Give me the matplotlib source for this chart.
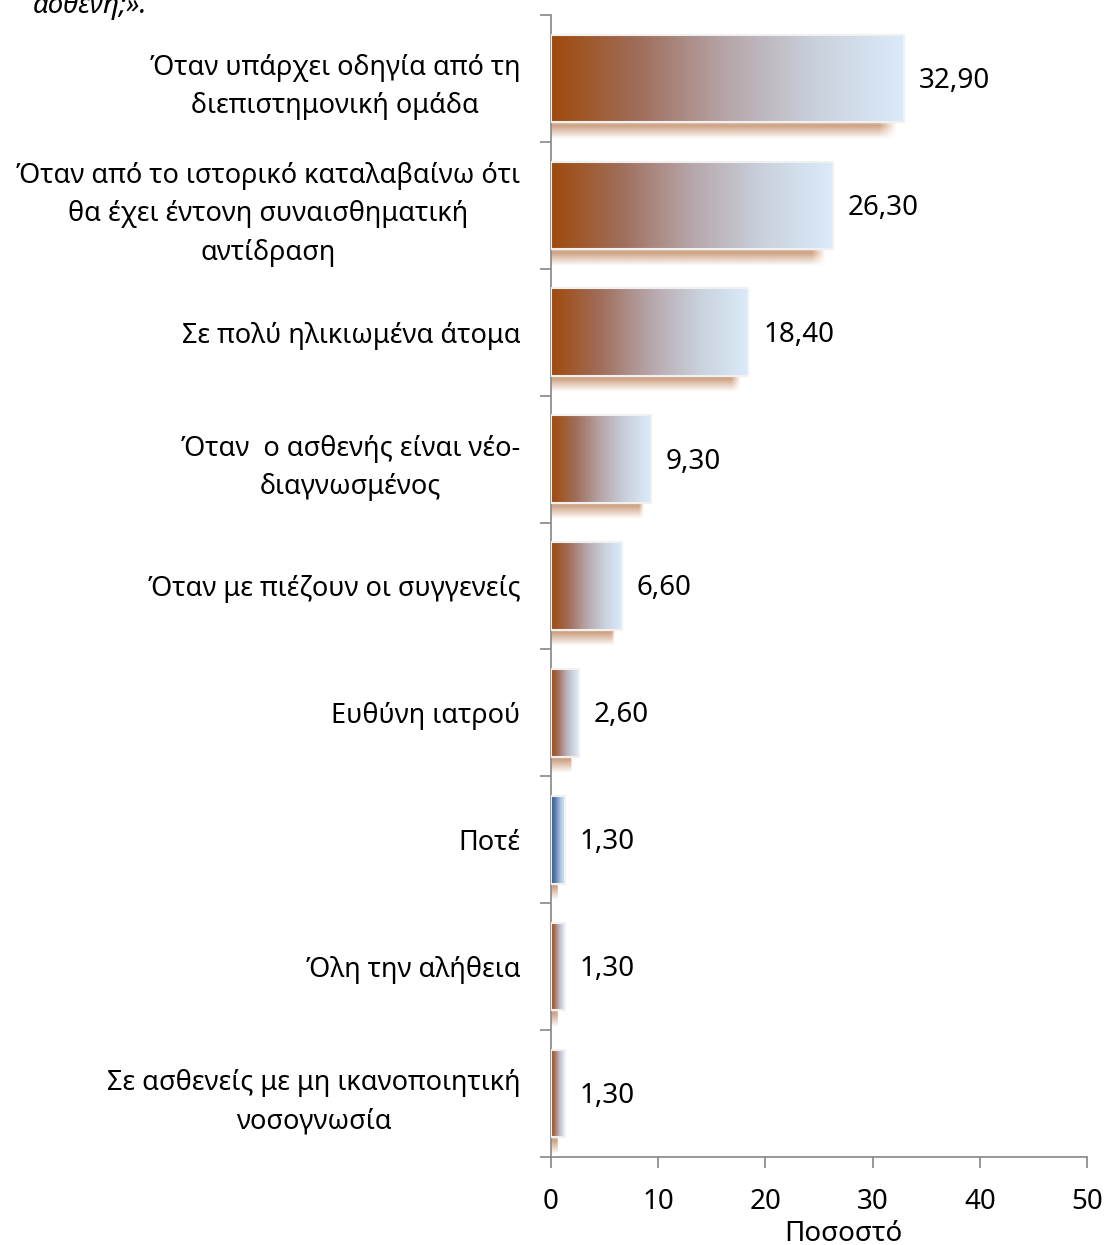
import numpy as np
import matplotlib.pyplot as plt
from matplotlib.colors import LinearSegmentedColormap, to_rgb

plt.rcParams['font.family'] = ['Noto Sans', 'DejaVu Sans']

labels = [
    "Όταν υπάρχει οδηγία από τη\nδιεπιστημονική ομάδα",
    "Όταν από το ιστορικό καταλαβαίνω ότι\nθα έχει έντονη συναισθηματική\nαντίδραση",
    "Σε πολύ ηλικιωμένα άτομα",
    "Όταν  ο ασθενής είναι νέο-\nδιαγνωσμένος",
    "Όταν με πιέζουν οι συγγενείς",
    "Ευθύνη ιατρού",
    "Ποτέ",
    "Όλη την αλήθεια",
    "Σε ασθενείς με μη ικανοποιητική\nνοσογνωσία",
]
values = [32.90, 26.30, 18.40, 9.30, 6.60, 2.60, 1.30, 1.30, 1.30]
value_text = ["32,90", "26,30", "18,40", "9,30", "6,60", "2,60", "1,30", "1,30", "1,30"]
xticks = [0, 10, 20, 30, 40, 50]

brown = LinearSegmentedColormap.from_list(
    "brown", ["#9f4a0c", "#a06e5c", "#b6a6aa", "#c9d1dc", "#dbebfa"])
blue = LinearSegmentedColormap.from_list(
    "blue", ["#2c5485", "#5f82ad", "#a9c2dd", "#d6e6f6"])

fig = plt.figure(figsize=(11.05, 12.45), dpi=100)
ax = fig.add_axes([0.4986, 0.0707, 0.4851, 0.9173])

n = len(values)
ax.set_xlim(0, 50)
ax.set_ylim(n - 0.5, -0.5)
bar_h = 0.69
grad = np.linspace(0, 1, 256).reshape(1, -1)

shadow_rgb = to_rgb("#c28c66")
for i, v in enumerate(values):
    top = i - bar_h / 2
    bot = i + bar_h / 2
    # soft shadow under the bar
    sh = np.zeros((30, 300, 4))
    sh[..., :3] = shadow_rgb
    fade_y = np.concatenate([np.linspace(0.5, 0.8, 6), np.linspace(0.8, 0.0, 24)])[:, None]
    fade_x = np.clip((1 - np.linspace(0, 1, 300)) / 0.05, 0, 1)[None, :]
    sh[..., 3] = fade_y * fade_x
    ax.imshow(sh, extent=(0, max(v - 0.7, 0.4), bot + 0.13, bot),
              aspect='auto', interpolation='bilinear', zorder=1)
    cmap = blue if labels[i] == "Ποτέ" else brown
    ax.imshow(grad, cmap=cmap, extent=(0, v, bot, top), aspect='auto',
              interpolation='bicubic', zorder=2)
    ax.add_patch(plt.Rectangle((0, top), v, bar_h, fill=False,
                               edgecolor="#f0f0f0", lw=1.5, zorder=3))
    ax.text(v + 1.4, i + 0.02, value_text[i], va='center', ha='left',
            fontsize=20, color='black')

ax.set_yticks(range(n))
ax.set_yticklabels(labels, fontsize=19.5, ha='right', multialignment='center',
                   linespacing=1.5)
ax.tick_params(axis='y', which='major', length=0, pad=22)
ax.set_yticks(np.arange(-0.5, n, 1), minor=True)
ax.tick_params(axis='y', which='minor', length=8, color='#868686', width=1.2)

ax.set_xticks(xticks)
ax.set_xticklabels([str(t) for t in xticks], fontsize=20)
ax.tick_params(axis='x', length=8, color='#868686', width=1.2, pad=14)

for s in ['top', 'right']:
    ax.spines[s].set_visible(False)
for s in ['left', 'bottom']:
    ax.spines[s].set_color('#868686')
    ax.spines[s].set_linewidth(1.2)

fig.text(0.763, 0.003, "Ποσοστό", fontsize=20, ha='center', va='baseline')
fig.text(0.03, 0.995, "ασθενή;».", fontsize=20, style='italic', va='center')

fig.savefig("out.png", dpi=100)
